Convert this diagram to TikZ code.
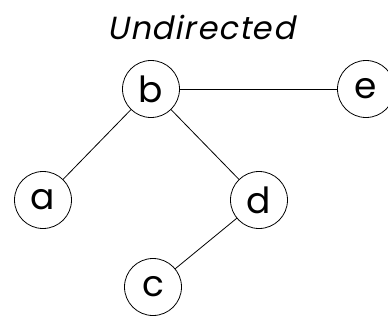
\documentclass[tikz,border=0pt]{standalone}
\usepackage{fontspec}
\setmainfont{Poppins}
\newfontfamily\titlefont[FakeSlant=0.2,LetterSpace=4]{Poppins}
\begin{document}
\begin{tikzpicture}[x=1pt,y=-1pt,
  vtx/.style={draw,circle,line width=0.8pt,minimum size=57pt,inner sep=0pt,font=\fontsize{36}{36}\selectfont},
  edge/.style={line width=0.8pt}]
\useasboundingbox (0,0) rectangle (388,335);
\node[font=\titlefont\fontsize{32}{32}\selectfont] (t) at (201,27) {Undirected};
\node[vtx] (b) at (151,89) {b};
\node[vtx] (e) at (366,89) {e};
\node[vtx] (a) at (43,200) {a};
\node[vtx] (d) at (259,200) {d};
\node[vtx] (c) at (153,287) {c};
\draw[edge] (b) -- (e);
\draw[edge] (b) -- (a);
\draw[edge] (b) -- (d);
\draw[edge] (d) -- (c);
\end{tikzpicture}
\end{document}
